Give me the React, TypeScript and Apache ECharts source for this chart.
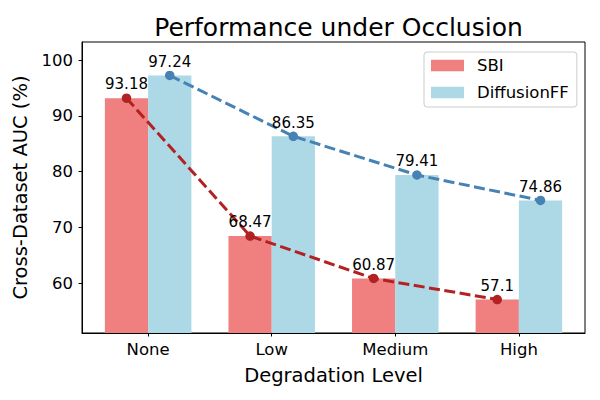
import React, { useEffect, useRef } from "react";
import * as echarts from "echarts";

const categories = ["None", "Low", "Medium", "High"];
const sbiValues = [93.18, 68.47, 60.87, 57.1];
const diffValues = [97.24, 86.35, 79.41, 74.86];
const yTicks = [60, 70, 80, 90, 100];
const xTicks = [0, 1, 2, 3];

const Y_MIN = 51.1;
const Y_MAX = 103.24;
const BAR_W = 0.35;
const FONT = "DejaVu Sans";

function barSeries(name: string, values: number[], offset: number, color: string) {
  return {
    type: "custom",
    name,
    itemStyle: { color },
    encode: { x: 0, y: 1 },
    data: values.map((v, i) => [i, v]),
    z: 1,
    renderItem: (params: any, api: any) => {
      const x = api.value(0) + offset;
      const y = api.value(1);
      const p0 = api.coord([x, y]);
      const p1 = api.coord([x + BAR_W, Y_MIN]);
      return {
        type: "rect",
        shape: { x: p0[0], y: p0[1], width: p1[0] - p0[0], height: p1[1] - p0[1] },
        style: { fill: color },
      };
    },
  };
}

function lineSeries(name: string, values: number[], offset: number, color: string) {
  return {
    type: "line",
    name,
    data: values.map((v, i) => [i + offset, v]),
    symbol: "circle",
    symbolSize: 9.5,
    z: 3,
    itemStyle: { color },
    lineStyle: { color, width: 3, type: [11, 4.5] },
    label: {
      show: true,
      position: "top",
      distance: 1.5,
      color: "#000",
      fontFamily: FONT,
      fontSize: 15,
      formatter: (p: any) => String(p.value[1]),
    },
  };
}

export default function App() {
  const ref = useRef<HTMLDivElement>(null);
  useEffect(() => {
    if (!ref.current) return;
    const chart = echarts.init(ref.current, undefined, { renderer: "svg" });
    chart.setOption({
      animation: false,
      backgroundColor: "#fff",
      textStyle: { fontFamily: FONT },
      title: {
        text: "Performance under Occlusion",
        left: 333.5,
        top: 10,
        textAlign: "center",
        textStyle: { fontFamily: FONT, fontSize: 25, fontWeight: "normal", color: "#000" },
      },
      legend: {
        data: ["SBI", "DiffusionFF"],
        orient: "vertical",
        left: 424,
        top: 52,
        padding: [5, 8, 6, 7],
        itemGap: 10,
        itemWidth: 33,
        itemHeight: 11.7,
        icon: "rect",
        backgroundColor: "rgba(255,255,255,0.8)",
        borderColor: "#cccccc",
        borderWidth: 1,
        borderRadius: 3,
        textStyle: { fontFamily: FONT, fontSize: 16.5, color: "#000", padding: [0, 0, 0, 8] },
      },
      grid: {
        left: 82,
        right: 15,
        top: 42,
        bottom: 67,
        show: true,
        borderColor: "#000",
        borderWidth: 1,
        containLabel: false,
      },
      xAxis: {
        type: "value",
        min: -0.535,
        max: 3.535,
        name: "Degradation Level",
        nameLocation: "middle",
        nameGap: 32,
        nameTextStyle: { fontFamily: FONT, fontSize: 19.5, color: "#000" },
        axisLine: { show: true, onZero: false, lineStyle: { color: "#000", width: 1 } },
        axisTick: { show: true, length: 3.5, customValues: xTicks, lineStyle: { color: "#000" } },
        axisLabel: {
          customValues: xTicks,
          margin: 8,
          fontFamily: FONT,
          fontSize: 16.5,
          color: "#000",
          formatter: (v: number) => categories[Math.round(v)] ?? "",
        },
        splitLine: { show: false },
      },
      yAxis: {
        type: "value",
        min: Y_MIN,
        max: Y_MAX,
        name: "Cross-Dataset AUC (%)",
        nameLocation: "middle",
        nameGap: 44,
        nameTextStyle: { fontFamily: FONT, fontSize: 19.5, color: "#000" },
        axisLine: { show: true, onZero: false, lineStyle: { color: "#000", width: 1 } },
        axisTick: { show: true, length: 3.5, customValues: yTicks, lineStyle: { color: "#000" } },
        axisLabel: {
          customValues: yTicks,
          margin: 9,
          fontFamily: FONT,
          fontSize: 16.5,
          color: "#000",
        },
        splitLine: { show: false },
      },
      series: [
        barSeries("SBI", sbiValues, -BAR_W, "#f08080"),
        barSeries("DiffusionFF", diffValues, 0, "#add8e6"),
        lineSeries("SBI trend", sbiValues, -BAR_W / 2, "#b22222"),
        lineSeries("DiffusionFF trend", diffValues, BAR_W / 2, "#4682b4"),
      ],
    });
    return () => chart.dispose();
  }, []);
  return (
    <div
      ref={ref}
      style={{ position: "absolute", left: 0, top: 0, width: 600, height: 400 }}
    />
  );
}
